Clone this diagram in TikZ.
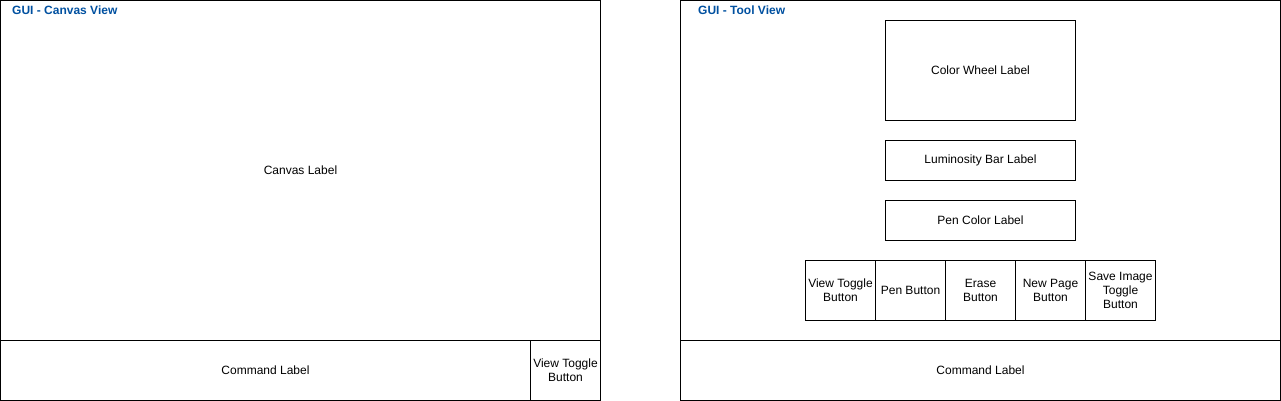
\documentclass[tikz,border=0pt]{standalone}
\usepackage{fontspec}
\setmainfont{Liberation Sans}
\definecolor{titleblue}{HTML}{0050A0}
\begin{document}
\begin{tikzpicture}[x=1pt,y=-1pt,
  box/.style={draw=black,line width=1pt,inner sep=0pt,outer sep=0pt,anchor=north west,font=\fontsize{12}{14}\selectfont,align=center},
  ttl/.style={anchor=west,text=titleblue,font=\fontsize{12}{14}\selectfont\bfseries,inner sep=0pt}]
\useasboundingbox (0,0) rectangle (1281,401);
% left view
\node[box,minimum width=600pt,minimum height=340pt] (canvas) at (0.5,0.5) {Canvas Label};
\node[box,minimum width=530pt,minimum height=60pt] (cmdL) at (0.5,340.5) {Command Label};
\node[box,minimum width=70pt,minimum height=60pt] (toggleL) at (530.5,340.5) {View Toggle\\Button};
\node[ttl] (titleL) at (12,10.5) {GUI - Canvas View};
% right view
\node[box,minimum width=600pt,minimum height=340pt] (tool) at (680.5,0.5) {};
\node[box,minimum width=600pt,minimum height=60pt] (cmdR) at (680.5,340.5) {Command Label};
\node[ttl] (titleR) at (698,10.5) {GUI - Tool View};
\node[box,minimum width=190pt,minimum height=100pt] (wheel) at (885.5,20.5) {Color Wheel Label};
\node[box,minimum width=190pt,minimum height=40pt] (lum) at (885.5,140.5) {Luminosity Bar Label};
\node[box,minimum width=190pt,minimum height=40pt] (pen) at (885.5,200.5) {Pen Color Label};
\node[box,minimum width=70pt,minimum height=60pt] (b1) at (805.5,260.5) {View Toggle\\Button};
\node[box,minimum width=70pt,minimum height=60pt] (b2) at (875.5,260.5) {Pen Button};
\node[box,minimum width=70pt,minimum height=60pt] (b3) at (945.5,260.5) {Erase\\Button};
\node[box,minimum width=70pt,minimum height=60pt] (b4) at (1015.5,260.5) {New Page\\Button};
\node[box,minimum width=70pt,minimum height=60pt] (b5) at (1085.5,260.5) {Save Image\\Toggle\\Button};
\end{tikzpicture}
\end{document}
